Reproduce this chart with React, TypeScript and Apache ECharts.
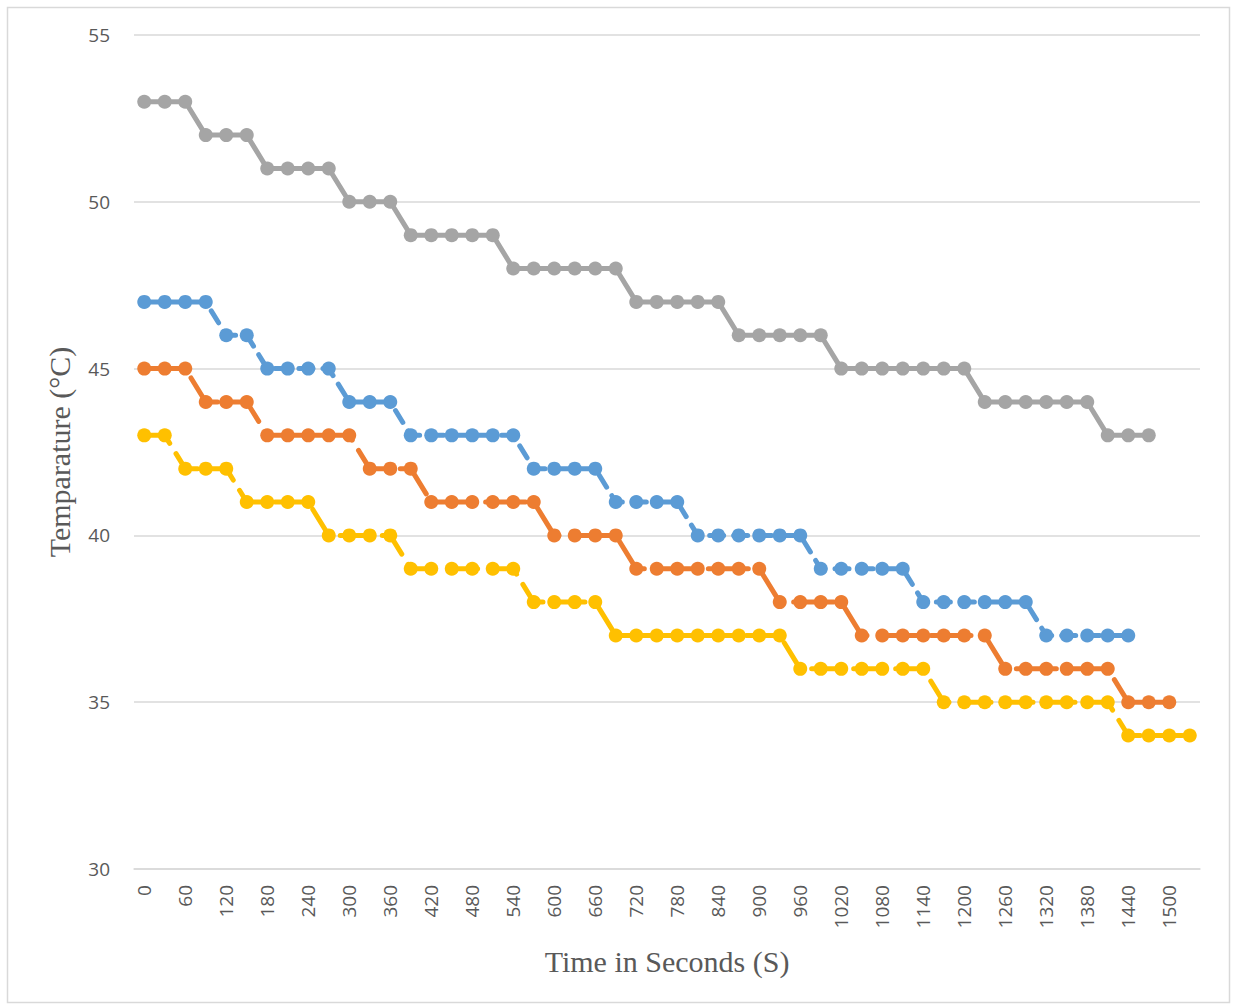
import React, { useEffect, useRef } from "react";
import * as echarts from "echarts";

const categories = [
  "0", "30", "60", "90", "120", "150", "180", "210", "240", "270",
  "300", "330", "360", "390", "420", "450", "480", "510", "540", "570",
  "600", "630", "660", "690", "720", "750", "780", "810", "840", "870",
  "900", "930", "960", "990", "1020", "1050", "1080", "1110", "1140", "1170",
  "1200", "1230", "1260", "1290", "1320", "1350", "1380", "1410", "1440", "1470",
  "1500", "1530",
];

const grayValues = [
  53, 53, 53, 52, 52, 52, 51, 51, 51, 51,
  50, 50, 50, 49, 49, 49, 49, 49, 48, 48,
  48, 48, 48, 48, 47, 47, 47, 47, 47, 46,
  46, 46, 46, 46, 45, 45, 45, 45, 45, 45,
  45, 44, 44, 44, 44, 44, 44, 43, 43, 43,
];

const blueValues = [
  47, 47, 47, 47, 46, 46, 45, 45, 45, 45,
  44, 44, 44, 43, 43, 43, 43, 43, 43, 42,
  42, 42, 42, 41, 41, 41, 41, 40, 40, 40,
  40, 40, 40, 39, 39, 39, 39, 39, 38, 38,
  38, 38, 38, 38, 37, 37, 37, 37, 37,
];

const orangeValues = [
  45, 45, 45, 44, 44, 44, 43, 43, 43, 43,
  43, 42, 42, 42, 41, 41, 41, 41, 41, 41,
  40, 40, 40, 40, 39, 39, 39, 39, 39, 39,
  39, 38, 38, 38, 38, 37, 37, 37, 37, 37,
  37, 37, 36, 36, 36, 36, 36, 36, 35, 35,
  35,
];

const yellowValues = [
  43, 43, 42, 42, 42, 41, 41, 41, 41, 40,
  40, 40, 40, 39, 39, 39, 39, 39, 39, 38,
  38, 38, 38, 37, 37, 37, 37, 37, 37, 37,
  37, 37, 36, 36, 36, 36, 36, 36, 36, 35,
  35, 35, 35, 35, 35, 35, 35, 35, 34, 34,
  34, 34,
];

const yMin = 30;
const yMax = 55;
const yStep = 5;

const xTitle = "Time in Seconds (S)";
const yTitle = "Temparature (°C)";

function makeSeries(name: string, data: number[], color: string, dash: any) {
  return {
    name,
    type: "line",
    data,
    symbol: "circle",
    symbolSize: 14,
    showSymbol: true,
    showAllSymbol: true,
    itemStyle: { color },
    lineStyle: { color, width: 5, type: dash, cap: "round" },
    z: 2,
  };
}

export default function App() {
  const ref = useRef<HTMLDivElement>(null);
  useEffect(() => {
    if (!ref.current) return;
    const chart = echarts.init(ref.current, null, { renderer: "svg" });
    const labelFont = "'Open Sans', 'Noto Sans', sans-serif";
    const titleFont = "'Liberation Serif', 'DejaVu Serif', serif";
    chart.setOption({
      animation: false,
      backgroundColor: "#ffffff",
      grid: { left: 134, right: 35, top: 35, bottom: 136, containLabel: false },
      graphic: [
        {
          type: "rect",
          shape: { x: 7.5, y: 7.5, width: 1222, height: 995 },
          style: { fill: "none", stroke: "#d9d9d9", lineWidth: 1.5 },
          silent: true,
          z: -1,
        },
      ],
      xAxis: {
        type: "category",
        data: categories,
        boundaryGap: true,
        name: xTitle,
        nameLocation: "middle",
        nameGap: 77,
        nameTextStyle: { fontFamily: titleFont, fontSize: 30, color: "#595959" },
        axisLine: { show: true, lineStyle: { color: "#d9d9d9", width: 1.5 } },
        axisTick: { show: false },
        axisLabel: {
          interval: 1,
          rotate: 90,
          margin: 16,
          fontFamily: labelFont,
          fontSize: 19,
          color: "#595959",
        },
        splitLine: { show: false },
      },
      yAxis: {
        type: "value",
        min: yMin,
        max: yMax,
        interval: yStep,
        name: yTitle,
        nameLocation: "middle",
        nameGap: 60,
        nameTextStyle: { fontFamily: titleFont, fontSize: 30, color: "#595959" },
        axisLine: { show: false },
        axisTick: { show: false },
        axisLabel: {
          margin: 24,
          fontFamily: labelFont,
          fontSize: 19,
          color: "#595959",
        },
        splitLine: { show: true, lineStyle: { color: "#d9d9d9", width: 1.5 } },
      },
      series: [
        makeSeries("Series 1", blueValues, "#5b9bd5", [14, 10]),
        makeSeries("Series 2", orangeValues, "#ed7d31", [40, 12]),
        makeSeries("Series 3", grayValues, "#a5a5a5", "solid"),
        makeSeries("Series 4", yellowValues, "#ffc000", [30, 12]),
      ],
    });
    return () => chart.dispose();
  }, []);
  return (
    <div
      ref={ref}
      style={{ position: "absolute", left: 0, top: 0, width: 1235, height: 1005 }}
    />
  );
}
